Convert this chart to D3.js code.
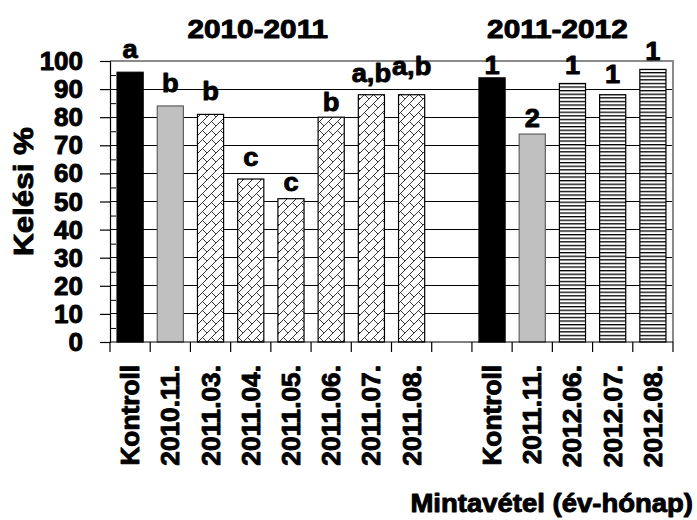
<!DOCTYPE html>
<html>
<head>
<meta charset="utf-8">
<script src="https://cdn.jsdelivr.net/npm/d3@7"></script>
<style>
  html, body { margin: 0; padding: 0; background: #fff; }
  svg text { font-family: "Liberation Sans", Arial, sans-serif; font-weight: bold; fill: #000; stroke: #000; stroke-width: 0.9px; stroke-linejoin: round; }
</style>
</head>
<body>
<svg id="chart" width="697" height="520"></svg>
<script>
// Germination (Kelési %) by sampling date, two seasons
const seasons = ["2010-2011", "2011-2012"];

const categories1 = ["Kontroll", "2010.11.", "2011.03.", "2011.04.", "2011.05.", "2011.06.", "2011.07.", "2011.08."];
const values1     = [96, 84, 81, 58, 51, 80, 88, 88];
const letters1    = ["a", "b", "b", "c", "c", "b", "a,b", "a,b"];
const kinds1      = ["control", "first", "brick", "brick", "brick", "brick", "brick", "brick"];

const categories2 = ["Kontroll", "2011.11.", "2012.06.", "2012.07.", "2012.08."];
const values2     = [94, 74, 92, 88, 97];
const letters2    = ["1", "2", "1", "1", "1"];
const kinds2      = ["control", "first", "lines", "lines", "lines"];

const yTicks = [0, 10, 20, 30, 40, 50, 60, 70, 80, 90, 100];

// hand-set distance of each significance label above its bar (px)
const labelLift1 = [14, 14, 14, 13, 8, 6, 13, 20];
const labelLift2 = [4, 7, 9, 12, 9];

const rows = [];
categories1.forEach((c, i) => rows.push({ key: "s1-" + i, label: c, value: values1[i], letter: letters1[i], kind: kinds1[i], lift: labelLift1[i] }));
const gapKey = "gap";
categories2.forEach((c, i) => rows.push({ key: "s2-" + i, label: c, value: values2[i], letter: letters2[i], kind: kinds2[i], lift: labelLift2[i] }));
const keys = rows.slice(0, categories1.length).map(d => d.key).concat([gapKey], rows.slice(categories1.length).map(d => d.key));

const svg = d3.select("#chart");
const plot = { left: 110, right: 673, top: 61, bottom: 342 };

const x = d3.scaleBand().domain(keys).range([plot.left, plot.right]).paddingInner(0.35).paddingOuter(0.175);
const y = d3.scaleLinear().domain([0, 100]).range([plot.bottom, plot.top]);
const step = x.step();

// fill patterns
const defs = svg.append("defs");
const brick = defs.append("pattern").attr("id", "brick").attr("patternUnits", "userSpaceOnUse")
  .attr("width", 9).attr("height", 9);
brick.append("rect").attr("width", 9).attr("height", 9).attr("fill", "#fff");
brick.append("path").attr("d", "M0,9 L9,0 M-1,1 L1,-1 M8,10 L10,8 M4.5,4.5 L9,9")
  .attr("stroke", "#222").attr("stroke-width", 0.9).attr("fill", "none");

const lines = defs.append("pattern").attr("id", "hlines").attr("patternUnits", "userSpaceOnUse")
  .attr("width", 8).attr("height", 3.6);
lines.append("rect").attr("width", 8).attr("height", 3.6).attr("fill", "#fff");
lines.append("rect").attr("y", 0).attr("width", 8).attr("height", 1.3).attr("fill", "#000");

const fillOf = { control: "#000", first: "#c0c0c0", brick: "url(#brick)", lines: "url(#hlines)" };
const strokeOf = { control: "#000", first: "#606060", brick: "#000", lines: "#000" };

// gridlines
svg.append("g").selectAll("line").data(yTicks.filter(v => v > 0 && v < 100)).join("line")
  .attr("x1", plot.left).attr("x2", plot.right)
  .attr("y1", d => y(d)).attr("y2", d => y(d))
  .attr("stroke", "#000").attr("stroke-width", 1).attr("shape-rendering", "crispEdges");

// plot frame top and right
svg.append("path")
  .attr("d", `M${plot.left},${y(100)} H${plot.right} V${plot.bottom}`)
  .attr("fill", "none").attr("stroke", "#8a8a8a").attr("stroke-width", 1.2).attr("shape-rendering", "crispEdges");

// bars
svg.append("g").selectAll("rect").data(rows).join("rect")
  .attr("x", d => x(d.key)).attr("width", x.bandwidth())
  .attr("y", d => y(d.value)).attr("height", d => y(0) - y(d.value))
  .attr("fill", d => fillOf[d.kind]).attr("stroke", d => strokeOf[d.kind]).attr("stroke-width", 1.2);

// y axis: major ticks outward, minor ticks inward
const yAxis = svg.append("g").attr("transform", `translate(${plot.left},0)`)
  .call(d3.axisLeft(y).tickValues(yTicks).tickSize(10).tickFormat(""));
yAxis.select(".domain").attr("stroke", "#000").attr("stroke-width", 1.2);
yAxis.selectAll(".tick line").attr("stroke", "#000").attr("stroke-width", 1.2);
svg.append("g").attr("transform", `translate(${plot.left},0)`)
  .call(d3.axisRight(y).tickValues(d3.range(5, 100, 10)).tickSize(6).tickFormat(""))
  .call(g => g.select(".domain").remove())
  .selectAll(".tick line").attr("stroke", "#000").attr("stroke-width", 1);

// y tick labels
svg.append("g").selectAll("text").data(yTicks).join("text")
  .attr("transform", d => `translate(${plot.left - 27},${y(d)}) scale(1.04,1)`)
  .attr("text-anchor", "end").attr("dy", "0.36em")
  .style("font-size", "25px").text(d => d);

// x axis line and slot ticks
const boundaries = keys.map(k => x(k) - step * x.paddingInner() / 2).concat([plot.right]);
svg.append("line").attr("x1", plot.left).attr("x2", plot.right).attr("y1", y(0)).attr("y2", y(0))
  .attr("stroke", "#000").attr("stroke-width", 1.2);
svg.append("g").selectAll("line").data(boundaries).join("line")
  .attr("x1", d => d).attr("x2", d => d).attr("y1", y(0)).attr("y2", y(0) + 10)
  .attr("stroke", "#000").attr("stroke-width", 1.2);

// category labels, rotated
svg.append("g").selectAll("text").data(rows).join("text")
  .attr("transform", d => `translate(${x(d.key) + x.bandwidth() / 2},${y(0) + 23}) rotate(-90) scale(1.05,1)`)
  .attr("text-anchor", "end").attr("dy", "0.36em")
  .style("font-size", "25px").text(d => d.label);

// significance letters
svg.append("g").selectAll("text").data(rows).join("text")
  .attr("transform", d => `translate(${x(d.key) + x.bandwidth() / 2},${y(d.value) - d.lift}) scale(1.05,1)`)
  .attr("text-anchor", "middle")
  .style("font-size", "26px").text(d => d.letter);

// season titles
const titleX = [x("s1-4") - step * 0.5, x("s2-2") - step * 0.05];
svg.append("g").selectAll("text").data(seasons).join("text")
  .attr("transform", (d, i) => `translate(${titleX[i]},38) scale(1.19,1)`)
  .attr("text-anchor", "middle")
  .style("font-size", "25px").text(d => d);

// axis titles
svg.append("text")
  .attr("transform", "translate(693,512) scale(1.1,1)")
  .attr("text-anchor", "end").style("font-size", "25px")
  .text("Mintavétel (év-hónap)");
svg.append("text")
  .attr("transform", `translate(33,${(plot.top + plot.bottom) / 2 - 10}) rotate(-90) scale(1.12,1)`)
  .attr("text-anchor", "middle").style("font-size", "28px")
  .text("Kelési %");
</script>
</body>
</html>
